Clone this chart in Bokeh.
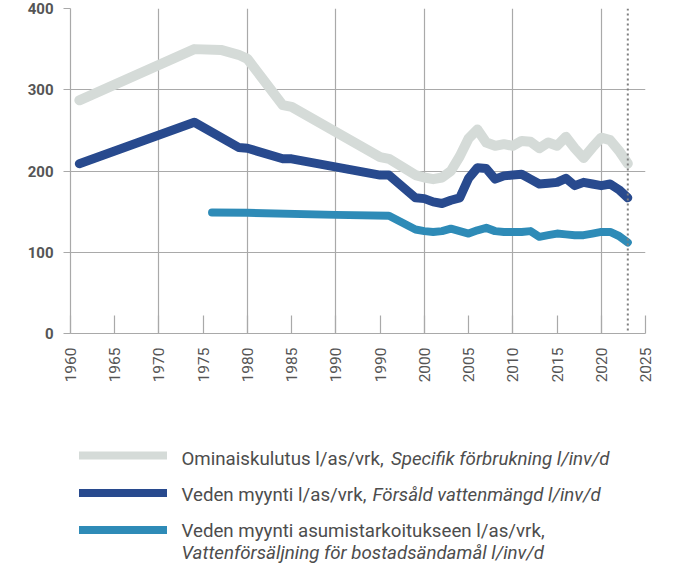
import math
from bokeh.plotting import figure
from bokeh.models import Range1d, FixedTicker, Span
from bokeh.layouts import column
from bokeh.embed import file_html
from bokeh.resources import INLINE
from bokeh.core.properties import value

# ---------------- data ----------------
spec_years = [1961, 1974, 1977, 1979, 1980, 1984, 1985, 1995, 1996, 1999, 2000, 2001, 2002,
              2003, 2004, 2005, 2006, 2007, 2008, 2009, 2010, 2011, 2012, 2013, 2014, 2015,
              2016, 2017, 2018, 2019, 2020, 2021, 2022, 2023]
spec_vals = [287, 350, 349, 343, 338, 281, 279, 217, 215, 195, 192, 190, 192,
             200, 218, 240, 251, 235, 231, 233, 231, 237, 236, 228, 235, 231,
             242, 228, 216, 229, 241, 238, 225, 209]

sold_years = [1961, 1974, 1979, 1980, 1984, 1985, 1995, 1996, 1999, 2000, 2001, 2002, 2003,
              2004, 2005, 2006, 2007, 2008, 2009, 2010, 2011, 2012, 2013, 2014, 2015, 2016,
              2017, 2018, 2019, 2020, 2021, 2022, 2023]
sold_vals = [209, 260, 229, 228, 215, 215, 195, 195, 167, 166, 162, 160, 164,
             167, 191, 204, 203, 190, 194, 195, 196, 190, 184, 185, 186, 191,
             182, 186, 184, 182, 184, 177, 167]

res_years = [1976, 1980, 1990, 1996, 1999, 2000, 2001, 2002, 2003, 2004, 2005, 2006, 2007,
             2008, 2009, 2010, 2011, 2012, 2013, 2014, 2015, 2016, 2017, 2018, 2019, 2020,
             2021, 2022, 2023]
res_vals = [149, 148.5, 146, 145, 128, 126, 125, 126, 129, 126, 123, 127, 130,
            126, 125, 125, 125, 126, 119, 121, 123, 122, 121, 121, 123, 125,
            125, 120, 112]

x_ticks = [1960, 1965, 1970, 1975, 1980, 1985, 1990, 1995, 2000, 2005, 2010, 2015, 2020, 2025]
x_tick_labels = ["1960", "1965", "1970", "1975", "1980", "1985", "1990", "1990", "2000",
                 "2005", "2010", "2015", "2020", "2025"]
x_grid_years = [1960, 1970, 1980, 1990, 2000, 2010, 2020, 2025]
y_ticks = [0, 100, 200, 300, 400]
marker_year = 2023

legend_main = ["Ominaiskulutus l/as/vrk,", "Veden myynti l/as/vrk,",
               "Veden myynti asumistarkoitukseen l/as/vrk,"]
legend_italic = ["Specifik förbrukning l/inv/d", "Försåld vattenmängd l/inv/d",
                 "Vattenförsäljning för bostadsändamål l/inv/d"]

# ---------------- styles ----------------
C_SPEC = "#d5dbd8"
C_SOLD = "#284a8e"
C_RES = "#2e8bb7"
GRID = "#a9a9a9"
TXT = "#555555"
FONT = "Roboto"
W = 680
BL, BR = 70, 35          # left / right borders (frame = 575 px)
MAIN_H = 386
TOTAL_H = 563

p = figure(width=W, height=MAIN_H, x_range=Range1d(1960, 2025), y_range=Range1d(0, 400),
           output_backend="svg", toolbar_location=None,
           min_border_left=BL, min_border_right=BR, min_border_top=8, min_border_bottom=53)
p.outline_line_color = None
p.background_fill_color = "white"

p.xgrid.ticker = FixedTicker(ticks=x_grid_years)
p.xgrid.grid_line_color = GRID
p.xgrid.grid_line_width = 1.2
p.ygrid.ticker = FixedTicker(ticks=y_ticks)
p.ygrid.grid_line_color = GRID
p.ygrid.grid_line_width = 1.2

p.xaxis.ticker = FixedTicker(ticks=x_ticks)
p.xaxis.major_label_overrides = {t: s for t, s in zip(x_ticks, x_tick_labels)}
p.xaxis.major_label_orientation = math.pi / 2
p.xaxis.major_label_text_font = FONT
p.xaxis.major_label_text_font_size = "15.5px"
p.xaxis.major_label_text_color = TXT
p.xaxis.major_label_standoff = 14
p.xaxis.axis_line_color = GRID
p.xaxis.axis_line_width = 1.2
p.xaxis.major_tick_line_color = GRID
p.xaxis.major_tick_line_width = 1.2
p.xaxis.major_tick_in = 18
p.xaxis.major_tick_out = 0
p.xaxis.minor_tick_line_color = None

p.yaxis.ticker = FixedTicker(ticks=y_ticks)
p.yaxis.major_label_text_font = FONT
p.yaxis.major_label_text_font_size = "15px"
p.yaxis.major_label_text_font_style = "bold"
p.yaxis.major_label_text_color = TXT
p.yaxis.major_label_standoff = 10
p.yaxis.axis_line_color = GRID
p.yaxis.axis_line_width = 1.2
p.yaxis.major_tick_line_color = GRID
p.yaxis.major_tick_line_width = 1.2
p.yaxis.major_tick_in = 0
p.yaxis.major_tick_out = 7
p.yaxis.minor_tick_line_color = None

p.line(spec_years, spec_vals, line_width=10, color=C_SPEC, line_cap="round", line_join="round")
p.line(sold_years, sold_vals, line_width=9, color=C_SOLD, line_cap="round", line_join="round")
p.line(res_years, res_vals, line_width=8, color=C_RES, line_cap="round", line_join="round")

p.add_layout(Span(location=marker_year, dimension="height", line_color="#7f7f7f",
                  line_width=2, line_dash="2 3", level="overlay"))

# ---------------- legend (coordinates = page pixels) ----------------
LH = TOTAL_H - MAIN_H
lg = figure(width=W, height=LH, x_range=Range1d(BL, W - BR), y_range=Range1d(TOTAL_H, MAIN_H),
            output_backend="svg", toolbar_location=None,
            min_border_left=BL, min_border_right=BR, min_border_top=0, min_border_bottom=0,
            x_axis_location=None, y_axis_location=None)
lg.grid.visible = False
lg.outline_line_color = None

sw_y = [455, 492.5, 529.5]
lg.segment(x0=[78.5] * 3, x1=[166.5] * 3, y0=sw_y, y1=sw_y,
           color=[C_SPEC, C_SOLD, C_RES], line_width=8, line_cap="butt")
lg.text(x=[181, 181, 181], y=[458.5, 494.5, 530.5], text=legend_main, text_font=value(FONT),
        text_font_size=value("18.7px"), text_baseline="middle", text_color="#4d4d4d")
lg.text(x=[390.5, 372, 181], y=[458.5, 494.5, 552.5], text=legend_italic, text_font=value(FONT),
        text_font_size=value("18.7px"), text_font_style="italic", text_baseline="middle",
        text_color="#4d4d4d")

layout = column(p, lg, spacing=0)
open("out.html", "w").write(file_html(layout, INLINE))
